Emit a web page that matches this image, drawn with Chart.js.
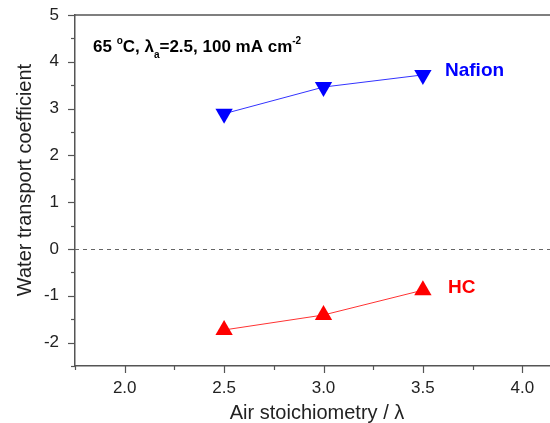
<!DOCTYPE html>
<html>
<head>
<meta charset="utf-8">
<script src="https://cdn.jsdelivr.net/npm/chart.js"></script>
<style>
  html, body { margin: 0; padding: 0; background: #fff; overflow: hidden; }
  #wrap { width: 550px; height: 423px; overflow: hidden; }
</style>
</head>
<body>
<div id="wrap"><canvas id="c" width="600" height="423"></canvas></div>
<script>
  "use strict";

  // air stoichiometry values
  const stoich = [2.5, 3.0, 3.5];
  // water transport coefficient
  const nafion = [2.89, 3.46, 3.72];
  const hc = [-1.73, -1.41, -0.88];

  const xTickLabels = ["2.0", "2.5", "3.0", "3.5", "4.0"];
  const yTickLabels = ["-2", "-1", "0", "1", "2", "3", "4", "5"];

  const FONT = "'Liberation Sans', Arial, sans-serif";
  const AXIS = "#555";

  const toPoints = (ys) => stoich.map((x, i) => ({ x: x, y: ys[i] }));

  // ticks, frame, zero line, titles and labels
  const decor = {
    id: "decor",
    beforeDatasetsDraw(chart) {
      const { ctx, chartArea: a, scales } = chart;
      const y0 = scales.y.getPixelForValue(0);
      ctx.save();
      ctx.strokeStyle = "#666";
      ctx.lineWidth = 1;
      ctx.setLineDash([4, 4]);
      ctx.beginPath();
      ctx.moveTo(a.left, Math.round(y0) + 0.5);
      ctx.lineTo(a.right, Math.round(y0) + 0.5);
      ctx.stroke();
      ctx.restore();
    },
    afterDraw(chart) {
      const { ctx, chartArea: a, scales } = chart;
      ctx.save();
      ctx.strokeStyle = AXIS;
      ctx.lineWidth = 1.5;
      ctx.beginPath();
      ctx.moveTo(a.left, a.top);
      ctx.lineTo(a.right, a.top);
      ctx.stroke();

      ctx.lineWidth = 1.2;
      scales.x.ticks.forEach((t) => {
        const px = Math.round(scales.x.getPixelForValue(t.value)) + 0.5;
        const major = Math.abs(t.value * 2 - Math.round(t.value * 2)) < 1e-6;
        ctx.beginPath();
        ctx.moveTo(px, a.bottom);
        ctx.lineTo(px, a.bottom + (major ? 7 : 4));
        ctx.stroke();
      });
      scales.y.ticks.forEach((t) => {
        const py = Math.round(scales.y.getPixelForValue(t.value)) + 0.5;
        const major = Number.isInteger(t.value);
        ctx.beginPath();
        ctx.moveTo(a.left, py);
        ctx.lineTo(a.left - (major ? 7 : 4), py);
        ctx.stroke();
      });

      // axis titles
      ctx.fillStyle = "#222";
      ctx.font = "20px " + FONT;
      ctx.textAlign = "center";
      ctx.textBaseline = "middle";
      ctx.fillText("Air stoichiometry / \u03bb", 317, 413);
      ctx.save();
      ctx.translate(25, 180);
      ctx.rotate(-Math.PI / 2);
      ctx.fillText("Water transport coefficient", 0, 0);
      ctx.restore();

      // condition label
      ctx.textAlign = "left";
      ctx.textBaseline = "alphabetic";
      ctx.fillStyle = "#000";
      let x = 93;
      const base = 52;
      const part = (txt, size, dy) => {
        ctx.font = "bold " + size + "px " + FONT;
        ctx.fillText(txt, x, base + dy);
        x += ctx.measureText(txt).width;
      };
      part("65 ", 17, 0);
      part("o", 10, -8);
      part("C, \u03bb", 17, 0);
      part("a", 10, 6);
      part("=2.5, 100 mA cm", 17, 0);
      part("-2", 10, -8);

      // series labels
      ctx.font = "bold 19px " + FONT;
      ctx.textBaseline = "middle";
      ctx.fillStyle = "#0000ff";
      ctx.fillText("Nafion", 445, 71);
      ctx.fillStyle = "#ff0000";
      ctx.fillText("HC", 448, 288);
      ctx.restore();
    },
  };

  new Chart(document.getElementById("c"), {
    type: "scatter",
    data: {
      datasets: [
        {
          label: "Nafion",
          data: toPoints(nafion),
          showLine: true,
          borderColor: "#3333ff",
          backgroundColor: "#0000ff",
          borderWidth: 1,
          pointStyle: "triangle",
          rotation: 180,
          pointRadius: 10,
          pointBorderWidth: 0,
          pointBorderColor: "#0000ff",
        },
        {
          label: "HC",
          data: toPoints(hc),
          showLine: true,
          borderColor: "#ff3333",
          backgroundColor: "#ff0000",
          borderWidth: 1,
          pointStyle: "triangle",
          pointRadius: 10,
          pointBorderWidth: 0,
          pointBorderColor: "#ff0000",
        },
      ],
    },
    options: {
      responsive: false,
      animation: false,
      events: [],
      layout: { padding: { top: 15, right: 28, left: 0, bottom: 0 } },
      plugins: { legend: { display: false }, tooltip: { enabled: false } },
      scales: {
        x: {
          type: "linear",
          min: 1.75,
          max: 4.25,
          grid: { display: false, drawTicks: false },
          border: { display: true, color: AXIS, width: 1.5 },
          ticks: {
            stepSize: 0.25,
            padding: 12,
            color: "#222",
            font: { size: 17, family: FONT },
            maxRotation: 0,
            autoSkip: false,
            callback: (v) => {
              const s = Number(v).toFixed(1);
              return Math.abs(v * 2 - Math.round(v * 2)) < 1e-6 && xTickLabels.includes(s) ? s : "";
            },
          },
          afterFit: (s) => {
            s.height = 57;
            s.paddingLeft = 0;
            s.paddingRight = 0;
          },
        },
        y: {
          min: -2.5,
          max: 5,
          grid: { display: false, drawTicks: false },
          border: { display: true, color: AXIS, width: 1.5 },
          ticks: {
            stepSize: 0.5,
            padding: 16,
            color: "#222",
            font: { size: 17, family: FONT },
            autoSkip: false,
            callback: (v) => (Number.isInteger(v) && yTickLabels.includes(String(v)) ? String(v) : ""),
          },
          afterFit: (s) => {
            s.width = 75;
            s.paddingTop = 0;
            s.paddingBottom = 0;
          },
        },
      },
    },
    plugins: [decor],
  });
</script>
</body>
</html>
